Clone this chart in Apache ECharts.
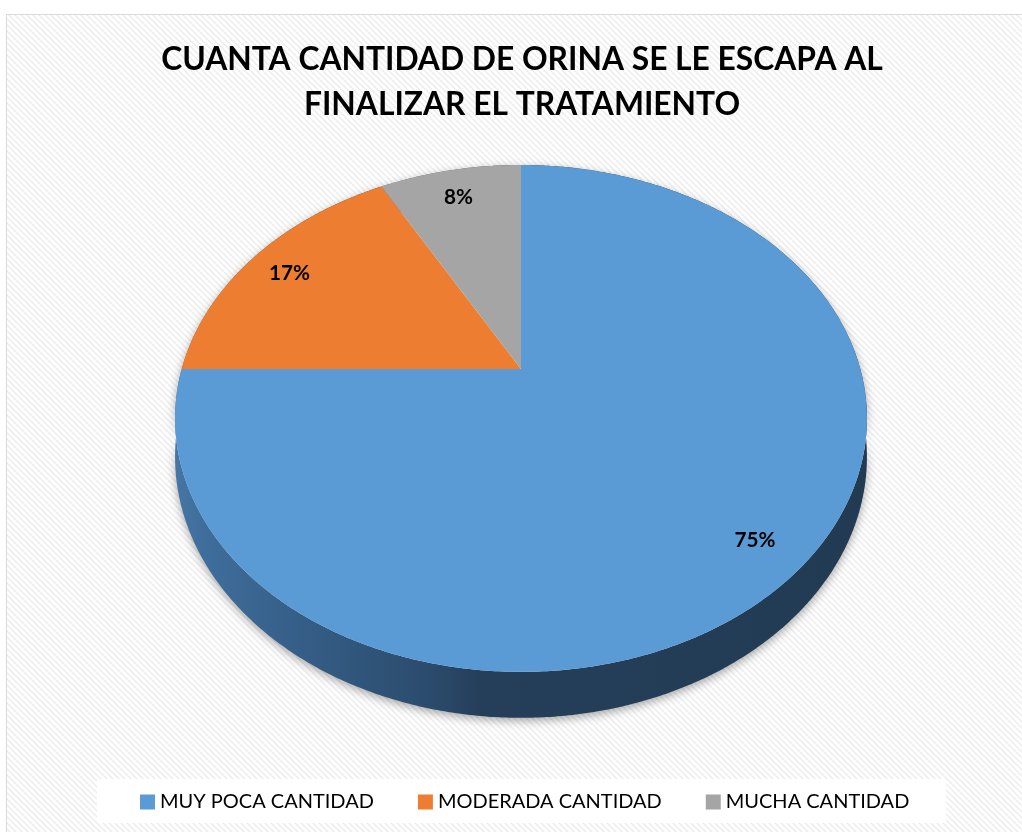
<!DOCTYPE html>
<html><head><meta charset="utf-8">
<script src="https://cdn.jsdelivr.net/npm/echarts@6/dist/echarts.min.js"></script>
<style>html,body{margin:0;padding:0;background:#fff}#c{width:1022px;height:832px}</style>
</head><body><div id="c"></div>
<script>
// ---- data ----
const titleLines = ['CUANTA CANTIDAD DE ORINA SE LE ESCAPA AL', 'FINALIZAR EL TRATAMIENTO'];
const categories = ['MUY POCA CANTIDAD', 'MODERADA CANTIDAD', 'MUCHA CANTIDAD'];
const values = [75, 17, 8];
const colors = ['#5B9BD5', '#ED7D31', '#A5A5A5'];

// ---- geometry / style ----
const CX = 521, CY = 369, A = 339.3, B = 243.8, K = 0.195, H = 37, LABEL_R = 0.86, LABEL_DY = 3;
const total = values.reduce((s, v) => s + v, 0);
const starts = [];
values.reduce((s, v, i) => { starts[i] = s; return s + v; }, 0);

const mctx = document.createElement('canvas').getContext('2d');
function fit(text, weight, family, targetW) {
  mctx.font = weight + ' 100px ' + family;
  return 100 * targetW / mctx.measureText(text).width;
}
const titleSize = fit(titleLines[0], 'bold', 'Lato', 722);
const legendSize = fit(categories[0], 'normal', 'Lato', 214);
const labelSize = fit('75%', 'bold', 'Lato', 41);

function proj(theta, r, dy) {
  const u = r * Math.sin(theta), v = -r * Math.cos(theta);
  const w = 1 - K * v;
  return [CX + A * u / w, CY + (B * v + (dy || 0)) / w];
}

const sideGradients = [
  [[0, '#4676a5'], [0.04, '#3f6e9c'], [0.18, '#355e87'], [0.37, '#2b4b6c'], [0.44, '#253f5b'], [1, '#223b53']],
  [[0, '#a85520'], [1, '#7a3d16']],
  [[0, '#777777'], [1, '#555555']]
];

function makeRender(i) {
  return function (params, api) {
    const val = api.value(0);
    const t0 = starts[i] / total * Math.PI * 2;
    const t1 = t0 + val / total * Math.PI * 2;
    const n = Math.max(2, Math.ceil((t1 - t0) / (Math.PI / 360)));
    const topRim = [], botRim = [];
    for (let j = 0; j <= n; j++) {
      const t = t0 + (t1 - t0) * j / n;
      topRim.push(proj(t, 1, 0));
      botRim.push(proj(t, 1, H));
    }
    const sidePts = topRim.concat(botRim.slice().reverse());
    const topPts = [proj(0, 0, 0)].concat(topRim);
    const tm = (t0 + t1) / 2;
    const lp = proj(tm, LABEL_R, 0);
    return {
      type: 'group',
      children: [
        { type: 'polygon', z2: 0, shape: { points: sidePts },
          style: { fill: new echarts.graphic.LinearGradient(0, 0, 1, 0,
              sideGradients[i].map(s => ({ offset: s[0], color: s[1] }))),
            shadowBlur: 10, shadowColor: 'rgba(0,0,0,0.35)', shadowOffsetY: 3 } },
        { type: 'polygon', z2: 10, shape: { points: topPts },
          style: { fill: api.visual('color') } },
        { type: 'text', z2: 20, x: lp[0], y: lp[1] + LABEL_DY,
          style: { text: Math.round(val / total * 100) + '%', fill: '#000',
            font: 'bold ' + labelSize.toFixed(1) + 'px Lato', align: 'center', verticalAlign: 'middle' } }
      ]
    };
  };
}

// background stripe pattern
const pc = document.createElement('canvas');
pc.width = 6; pc.height = 6;
const pctx = pc.getContext('2d');
pctx.fillStyle = '#ffffff'; pctx.fillRect(0, 0, 6, 6);
pctx.strokeStyle = '#ededed'; pctx.lineWidth = 1.5;
pctx.beginPath();
pctx.moveTo(-1, -1); pctx.lineTo(7, 7);
pctx.moveTo(-7, -1); pctx.lineTo(1, 7);
pctx.moveTo(5, -1); pctx.lineTo(13, 7);
pctx.stroke();

const chart = echarts.init(document.getElementById('c'), null, { renderer: 'canvas' });
chart.setOption({
  backgroundColor: '#ffffff',
  color: colors,
  animation: false,
  title: {
    text: titleLines.join('\n'),
    left: 517, top: 32, textAlign: 'center',
    textStyle: { fontFamily: 'Lato', fontWeight: 'bold', fontSize: titleSize, lineHeight: 45, color: '#000' }
  },
  legend: {
    data: categories,
    left: 135, top: 787,
    icon: 'rect', itemWidth: 15, itemHeight: 15, itemGap: 44,
    textStyle: { fontFamily: 'Lato', fontSize: legendSize, color: '#000' }
  },
  graphic: [
    { type: 'rect', silent: true, z: -10, shape: { x: 6.5, y: 14.5, width: 1100, height: 900 },
      style: { fill: { image: pc, repeat: 'repeat' }, stroke: '#d9d9d9', lineWidth: 1 } },
    { type: 'rect', silent: true, z: -9, shape: { x: 97, y: 779, width: 849, height: 44 },
      style: { fill: '#ffffff' } }
  ],
  series: categories.map((name, i) => ({
    type: 'custom',
    name: name,
    coordinateSystem: 'none',
    itemStyle: { color: colors[i] },
    renderItem: makeRender(i),
    data: [[values[i]]]
  }))
});
</script></body></html>
